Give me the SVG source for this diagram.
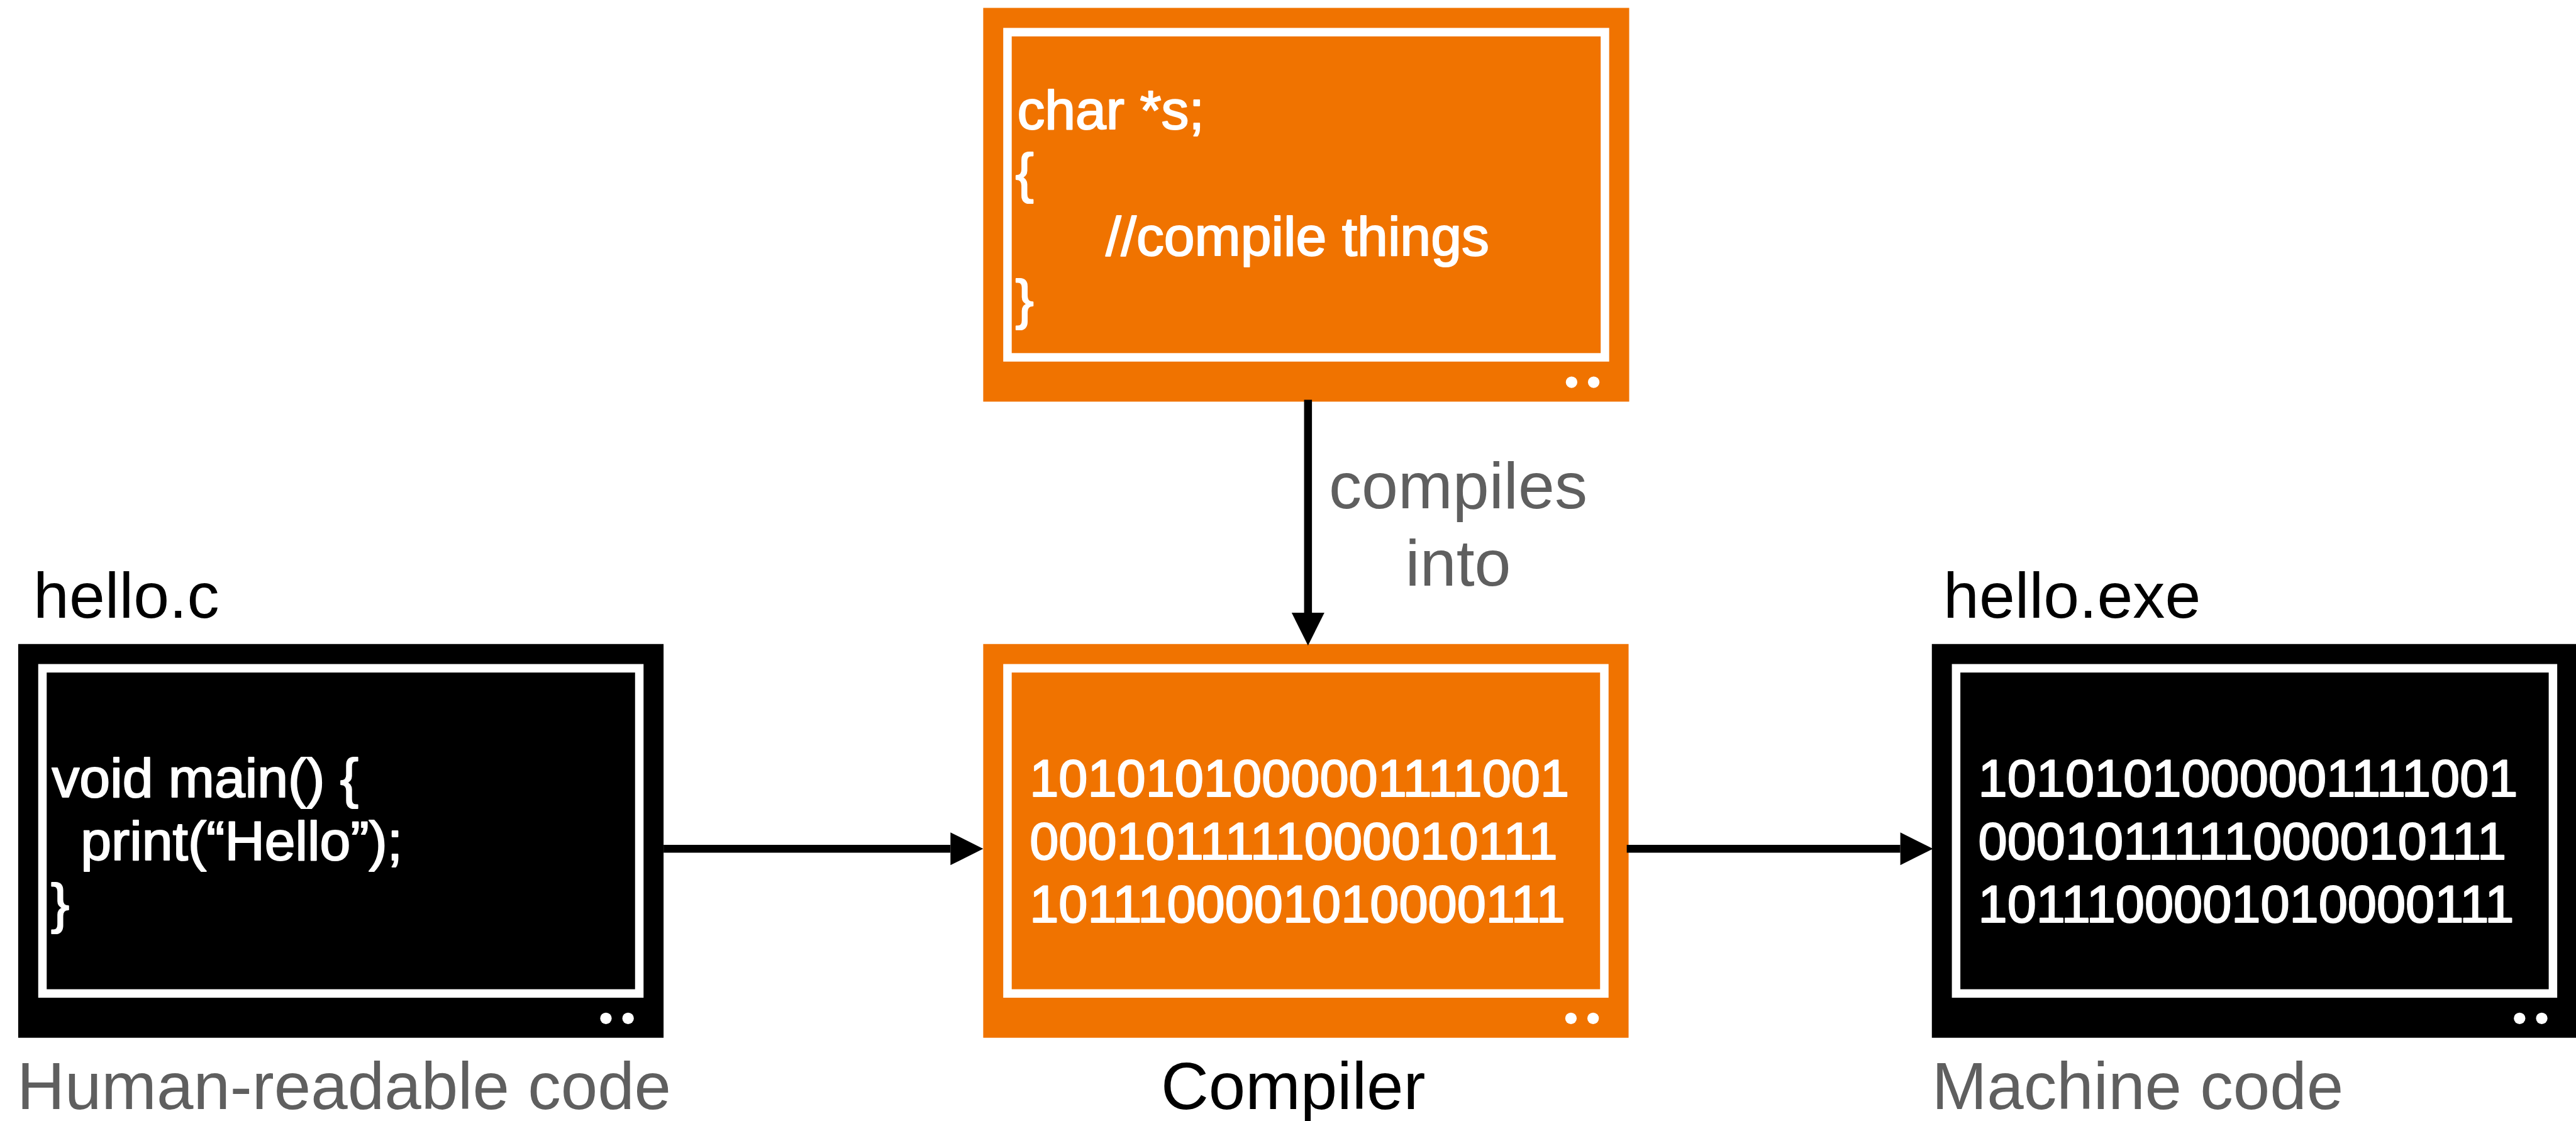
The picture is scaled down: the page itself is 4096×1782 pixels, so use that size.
<svg xmlns="http://www.w3.org/2000/svg" width="4096" height="1782" viewBox="0 0 4096 1782">
  <style>
    text { font-family: "Liberation Sans", Arial, Helvetica, sans-serif; }
    .box-orange { fill: #F07300; }
    .box-black { fill: #000000; }
    .frame { fill: none; stroke: #FFFFFF; stroke-width: 14; }
    .dot { fill: #FFFFFF; }
    .code { fill: #FFFFFF; stroke: #FFFFFF; stroke-width: 2.2; stroke-linejoin: round; font-size: 91px; }
    .bits { fill: #FFFFFF; stroke: #FFFFFF; stroke-width: 2.2; stroke-linejoin: round; font-size: 86px; }
    .title { fill: #000000; font-size: 106px; }
    .caption { fill: #5F5F5F; font-size: 109px; }
    .caption-dark { fill: #000000; font-size: 109px; }
    .edge-label { fill: #5F5F5F; font-size: 108px; text-anchor: middle; }
    .wire { fill: none; stroke: #000000; stroke-width: 13; }
  </style>
  <defs>
    <marker id="head" markerUnits="userSpaceOnUse" markerWidth="54" markerHeight="54" refX="0" refY="27" orient="auto" overflow="visible">
      <path d="M0,0 L54,27 L0,54 Z" fill="#000000"/>
    </marker>
  </defs>
  <rect width="4096" height="1782" fill="#FFFFFF"/>
  <g transform="scale(0.96445)">
    <!-- compiler source code -->
    <g id="compiler-source">
      <rect class="box-orange" x="1621" y="13" width="1065" height="649"/>
      <rect class="frame" x="1661" y="53" width="985" height="536"/>
      <circle class="dot" cx="2591" cy="630" r="9.5"/>
      <circle class="dot" cx="2627.5" cy="630" r="9.5"/>
      <text class="code" x="1677" y="212.5">char *s;</text>
      <text class="code" x="1674" y="316.5">{</text>
      <text class="code" x="1823" y="420.6">//compile things</text>
      <text class="code" x="1674" y="524.6">}</text>
    </g>

    <!-- hello.c -->
    <g id="source-file">
      <text class="title" x="55" y="1018">hello.c</text>
      <rect class="box-black" x="30" y="1061.5" width="1064" height="649"/>
      <rect class="frame" x="70" y="1101.5" width="984" height="536"/>
      <circle class="dot" cx="999" cy="1678.5" r="9.5"/>
      <circle class="dot" cx="1035.5" cy="1678.5" r="9.5"/>
      <text class="code" x="85.5" y="1314">void main() {</text>
      <text class="code" x="133" y="1417">print(“Hello”);</text>
      <text class="code" x="84" y="1520">}</text>
      <text class="caption" x="28" y="1828" font-size="108">Human-readable code</text>
    </g>

    <!-- compiler -->
    <g id="compiler">
      <rect class="box-orange" x="1621" y="1061.5" width="1064" height="649"/>
      <rect class="frame" x="1661" y="1101.5" width="984" height="536"/>
      <circle class="dot" cx="2590" cy="1678.5" r="9.5"/>
      <circle class="dot" cx="2626.5" cy="1678.5" r="9.5"/>
      <text class="bits" x="1697.5" y="1312.5">1010101000001111001</text>
      <text class="bits" x="1697.5" y="1416.5">0001011111000010111</text>
      <text class="bits" x="1697.5" y="1520">1011100001010000111</text>
      <text class="caption-dark" x="1914" y="1828">Compiler</text>
    </g>

    <!-- hello.exe -->
    <g id="executable">
      <text class="title" x="3204" y="1018">hello.exe</text>
      <rect class="box-black" x="3185" y="1061.5" width="1064" height="649"/>
      <rect class="frame" x="3225" y="1101.5" width="984" height="536"/>
      <circle class="dot" cx="4154" cy="1678.5" r="9.5"/>
      <circle class="dot" cx="4190.5" cy="1678.5" r="9.5"/>
      <text class="bits" x="3261.5" y="1312.5">1010101000001111001</text>
      <text class="bits" x="3261.5" y="1416.5">0001011111000010111</text>
      <text class="bits" x="3261.5" y="1520">1011100001010000111</text>
      <text class="caption" x="3185" y="1828">Machine code</text>
    </g>

    <!-- arrows -->
    <g id="connectors">
      <path class="wire" d="M2156.5,659 L2156.5,1010" marker-end="url(#head)"/>
      <text class="edge-label" x="2404" y="838">compiles</text>
      <text class="edge-label" x="2404" y="965">into</text>
      <path class="wire" d="M1094,1399 L1567,1399" marker-end="url(#head)"/>
      <path class="wire" d="M2682,1399 L3133,1399" marker-end="url(#head)"/>
    </g>
  </g>
</svg>
